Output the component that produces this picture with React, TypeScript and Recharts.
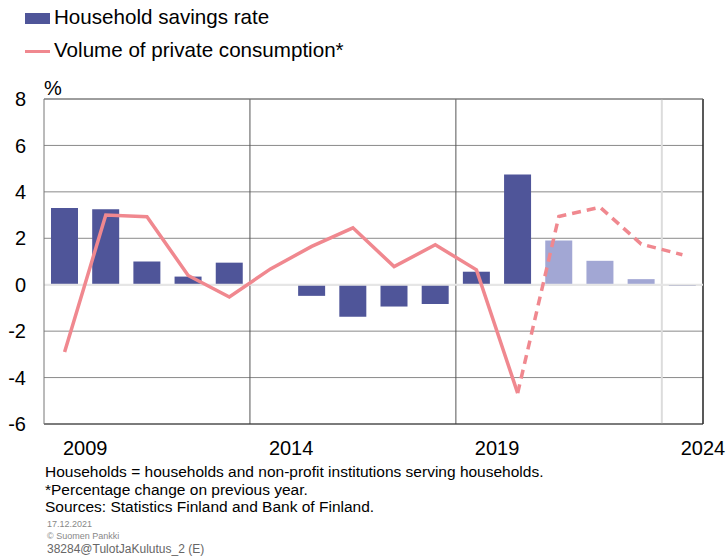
import {
  ComposedChart,
  Bar,
  Line,
  Cell,
  XAxis,
  YAxis,
  CartesianGrid,
  ReferenceLine,
} from "recharts";

const years = [
  "2009", "2010", "2011", "2012", "2013", "2014", "2015", "2016",
  "2017", "2018", "2019", "2020", "2021", "2022", "2023", "2024",
];

// household savings rate, %
const savingsRate = [
  3.3, 3.25, 1.0, 0.35, 0.95, 0.0, -0.48, -1.38,
  -0.94, -0.83, 0.56, 4.75, 1.9, 1.03, 0.24, -0.05,
];

// private consumption volume, % change (actual)
const consumptionActual = [
  -2.9, 3.0, 2.93, 0.4, -0.53, 0.68, 1.65, 2.45,
  0.78, 1.72, 0.64, -4.67, null, null, null, null,
];

// private consumption volume, % change (forecast)
const consumptionForecast = [
  null, null, null, null, null, null, null, null,
  null, null, null, -4.67, 2.94, 3.34, 1.75, 1.29,
];

const forecastBarYears = ["2021", "2022", "2023"];
const xTickLabels = ["2009", "2014", "2019", "2024"];
const yTicks = [-6, -4, -2, 0, 2, 4, 6, 8];

const data = years.map((year, i) => ({
  year,
  savings: savingsRate[i],
  actual: consumptionActual[i],
  forecast: consumptionForecast[i],
}));

const FONT = "'Liberation Sans', Arial, sans-serif";
const BAR_DARK = "#4f5599";
const BAR_LIGHT = "#a2a7d4";
const LINE_COLOR = "#f0888f";

const YearTick = (props: any) => {
  const { x, y, payload } = props;
  if (!xTickLabels.includes(payload.value)) return <g />;
  return (
    <text
      x={x + (payload.offset ?? 0)}
      y={y}
      dy="0.71em"
      textAnchor="middle"
      fontSize={20}
      fontFamily={FONT}
      fill="#000"
    >
      {payload.value}
    </text>
  );
};

const App = () => {
  return (
    <div
      style={{
        position: "absolute",
        left: 0,
        top: 0,
        width: 727,
        height: 558,
        background: "#fff",
        fontFamily: FONT,
        color: "#000",
      }}
    >
      {/* legend */}
      <div style={{ position: "absolute", left: 25, top: 13, width: 25, height: 11, background: BAR_DARK }} />
      <div style={{ position: "absolute", left: 54, top: 5, fontSize: 20.6, lineHeight: "24px" }}>
        Household savings rate
      </div>
      <div style={{ position: "absolute", left: 25, top: 50, width: 25, height: 3, background: LINE_COLOR }} />
      <div style={{ position: "absolute", left: 54, top: 38, fontSize: 20.6, lineHeight: "24px" }}>
        Volume of private consumption*
      </div>

      <div style={{ position: "absolute", left: 44, top: 76, fontSize: 20, lineHeight: "24px" }}>%</div>

      <div style={{ position: "absolute", left: 0, top: 0 }}>
        <ComposedChart
          width={727}
          height={470}
          data={data}
          margin={{ top: 99, right: 24, left: 0, bottom: 0 }}
          barCategoryGap="17%"
        >
          <CartesianGrid vertical={false} stroke="#8a8a8a" strokeWidth={1} />
          <XAxis
            dataKey="year"
            interval={0}
            height={46}
            tickLine={false}
            tickMargin={11}
            axisLine={{ stroke: "#333" }}
            tick={<YearTick />}
          />
          <YAxis
            width={44}
            domain={[-6, 8]}
            ticks={yTicks}
            interval={0}
            tickLine={false}
            tickMargin={12}
            axisLine={{ stroke: "#777" }}
            tick={{ fontSize: 20, fontFamily: FONT, fill: "#000" }}
          />
          <ReferenceLine x="2014" position="start" stroke="#555" />
          <ReferenceLine x="2019" position="start" stroke="#555" />
          <ReferenceLine x="2024" position="start" stroke="#dcdcdc" strokeWidth={2} />
          <ReferenceLine x="2024" position="end" stroke="#222" strokeWidth={1.5} />
          <ReferenceLine y={8} stroke="#777" />
          <ReferenceLine y={0} stroke="#e6e6e6" strokeWidth={2} />
          <Bar dataKey="savings" isAnimationActive={false}>
            {data.map((d) => (
              <Cell
                key={d.year}
                fill={forecastBarYears.includes(d.year) ? BAR_LIGHT : BAR_DARK}
              />
            ))}
          </Bar>
          <Line
            dataKey="actual"
            stroke={LINE_COLOR}
            strokeWidth={3.5}
            dot={false}
            connectNulls={false}
            isAnimationActive={false}
          />
          <Line
            dataKey="forecast"
            stroke={LINE_COLOR}
            strokeWidth={3.5}
            strokeDasharray="9 6"
            dot={false}
            connectNulls={false}
            isAnimationActive={false}
          />
        </ComposedChart>
      </div>

      {/* notes */}
      <div style={{ position: "absolute", left: 45, top: 463, fontSize: 15.5, lineHeight: "17.5px", whiteSpace: "nowrap" }}>
        Households = households and non-profit institutions serving households.
        <br />
        *Percentage change on previous year.
        <br />
        Sources: Statistics Finland and Bank of Finland.
      </div>
      <div style={{ position: "absolute", left: 47, top: 518, fontSize: 9, lineHeight: "12px", color: "#888" }}>
        17.12.2021
        <br />© Suomen Pankki
      </div>
      <div style={{ position: "absolute", left: 47, top: 542, fontSize: 12, lineHeight: "14px", color: "#666" }}>
        38284@TulotJaKulutus_2 (E)
      </div>
    </div>
  );
};

export default App;
